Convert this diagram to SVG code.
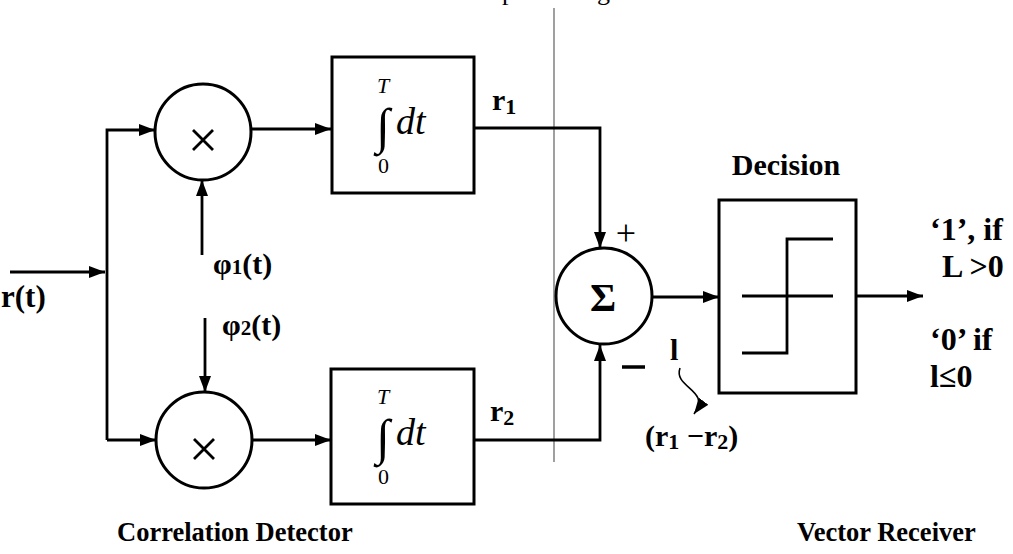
<svg xmlns="http://www.w3.org/2000/svg" width="1013" height="554" viewBox="0 0 1013 554">
<style>
.ln{fill:none;stroke:#000;stroke-width:2.8}
.bx{fill:#fff;stroke:#000;stroke-width:3}
.lb{font-family:"Liberation Serif","Times New Roman",serif;font-weight:bold;fill:#000}
.it{font-family:"Liberation Serif","Times New Roman",serif;font-style:italic;fill:#000}
.rm{font-family:"Liberation Serif","Times New Roman",serif;fill:#000}
</style>
<defs>
<marker id="ah" viewBox="0 0 16 12" refX="16" refY="6" markerWidth="16" markerHeight="12" markerUnits="userSpaceOnUse" orient="auto">
<path d="M0,0 L16,6 L0,12 Z" fill="#000"/>
</marker>
</defs>
<rect width="1013" height="554" fill="#fff"/>
<text class="rm" x="502" y="0" font-size="26">p</text>
<text class="rm" x="597" y="0" font-size="26">g</text>
<line x1="554" y1="8" x2="554" y2="462" stroke="#888" stroke-width="1.6"/>
<g id="connectors">
<path class="ln" d="M10,272 H105" marker-end="url(#ah)"/>
<path class="ln" d="M107,440 V130 H155" marker-end="url(#ah)"/>
<path class="ln" d="M107,440 H156" marker-end="url(#ah)"/>
<path class="ln" d="M202,255 V180" marker-end="url(#ah)"/>
<path class="ln" d="M205,318 V392" marker-end="url(#ah)"/>
<path class="ln" d="M251,129 H331" marker-end="url(#ah)"/>
<path class="ln" d="M252,440 H331" marker-end="url(#ah)"/>
<path class="ln" d="M474,128 H600 V248" marker-end="url(#ah)"/>
<path class="ln" d="M474,440 H600 V345" marker-end="url(#ah)"/>
<path class="ln" d="M651,297 H719" marker-end="url(#ah)"/>
<path class="ln" d="M856,296 H923" marker-end="url(#ah)"/>
<path d="M680,368 C673,388 712,390 694,414" fill="none" stroke="#000" stroke-width="1.6" marker-end="url(#ah)"/>
</g>
<g id="mult1">
<circle class="bx" cx="203" cy="132" r="48"/>
<path class="ln" d="M193,130 L213,150 M213,130 L193,150" stroke-width="2.5"/>
</g>
<g id="mult2">
<circle class="bx" cx="204" cy="440" r="48"/>
<path class="ln" d="M194,439 L214,459 M214,439 L194,459" stroke-width="2.5"/>
</g>
<g id="int1">
<rect class="bx" x="332" y="57" width="142" height="136"/>
<text class="it" x="377" y="93" font-size="22">T</text>
<text class="rm" x="376" y="143" font-size="50">∫</text>
<text class="it" x="396" y="134" font-size="38">dt</text>
<text class="rm" x="378" y="173" font-size="22">0</text>
</g>
<g id="int2">
<rect class="bx" x="331" y="369" width="143" height="135"/>
<text class="it" x="377" y="404" font-size="22">T</text>
<text class="rm" x="376" y="454" font-size="50">∫</text>
<text class="it" x="396" y="445" font-size="38">dt</text>
<text class="rm" x="378" y="484" font-size="22">0</text>
</g>
<g id="sum">
<circle class="bx" cx="604" cy="296" r="48"/>
<text class="lb" x="603" y="311" font-size="40" text-anchor="middle">Σ</text>
<text class="rm" x="626" y="245" font-size="36" text-anchor="middle">+</text>
<line x1="622" y1="367" x2="645" y2="367" stroke="#000" stroke-width="3.5"/>
</g>
<g id="decision">
<rect class="bx" x="719" y="200" width="137" height="193"/>
<path class="ln" d="M742,296 H833 M742,353 H787 V239 H833"/>
<text class="lb" x="786" y="175" font-size="30" text-anchor="middle">Decision</text>
</g>
<g id="labels">
<text class="lb" x="1" y="307" font-size="31">r(t)</text>
<text class="lb" x="213" y="274" font-size="30">φ<tspan font-size="21">1</tspan>(t)</text>
<text class="lb" x="222" y="335" font-size="30">φ<tspan font-size="21">2</tspan>(t)</text>
<text class="lb" x="492" y="110" font-size="30">r<tspan font-size="22" dy="4">1</tspan></text>
<text class="lb" x="490" y="421" font-size="30">r<tspan font-size="22" dy="4">2</tspan></text>
<text class="lb" x="670" y="360" font-size="30">l</text>
<text class="lb" x="645" y="446" font-size="30">(r<tspan font-size="22" dy="3">1</tspan><tspan dy="-3"> −r</tspan><tspan font-size="22" dy="3">2</tspan><tspan dy="-3">)</tspan></text>
<text class="lb" x="930" y="240" font-size="32">‘1’, if</text>
<text class="lb" x="942" y="277" font-size="32">L &gt;0</text>
<text class="lb" x="930" y="350" font-size="32">‘0’ if</text>
<text class="lb" x="930" y="387" font-size="32">l≤0</text>
<text class="lb" x="117" y="541" font-size="26.5">Correlation Detector</text>
<text class="lb" x="797" y="541" font-size="26.5">Vector Receiver</text>
</g>
</svg>
